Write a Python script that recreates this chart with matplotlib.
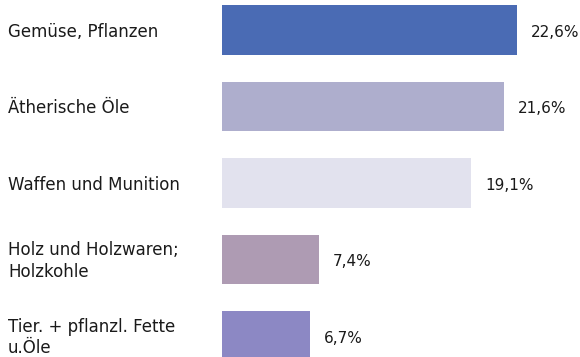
import numpy as np
import matplotlib.pyplot as plt

# Anteile nach Warengruppe
categories = ['Gemüse, Pflanzen', 'Ätherische Öle', 'Waffen und Munition',
              'Holz und Holzwaren;\nHolzkohle', 'Tier. + pflanzl. Fette\nu.Öle']
values = [22.6, 21.6, 19.1, 7.4, 6.7]
colors = ['#4a6bb4', '#aeaecd', '#e2e2ee', '#ae9bb3', '#8c88c4']

W, H = 580, 357
fig = plt.figure(figsize=(W / 100, H / 100), dpi=100)
ax = fig.add_axes([0, 0, 1, 1])

px_per_unit = 13.06
x0 = 222
ax.set_xlim(-x0 / px_per_unit, (W - x0) / px_per_unit)
row = 76.5
top = 30
ax.set_ylim((H - top) / row, -top / row)

y = np.arange(len(values))
ax.barh(y, values, height=0.65, color=colors)

for yi, v, lab in zip(y, values, categories):
    ax.text(v + 14 / px_per_unit, yi + 0.03, f'{v:.1f}%'.replace('.', ','),
            va='center', ha='left', fontsize=11, color='#1a1a1a')
    ax.text(8 / W, yi + 0.02, lab, transform=ax.get_yaxis_transform(),
            va='center', ha='left', fontsize=12, color='#1a1a1a',
            linespacing=1.22)

ax.axis('off')
fig.savefig('out.png', dpi=100)
